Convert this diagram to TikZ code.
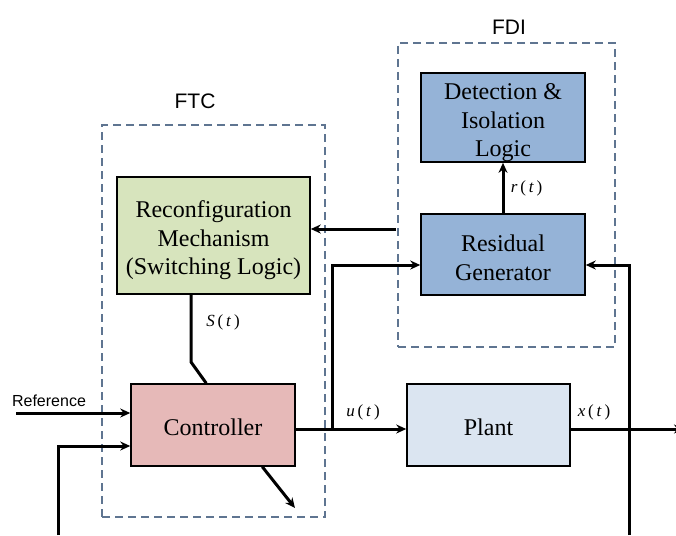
\documentclass[tikz,border=0pt]{standalone}
\usepackage{fontspec}
\setmainfont{Liberation Serif}
\newfontfamily\arialf{Liberation Sans}
\usetikzlibrary{arrows.meta,calc}
\definecolor{fdiblue}{HTML}{95B3D7}
\definecolor{recgreen}{HTML}{D7E4BD}
\definecolor{ctrlpink}{HTML}{E6B9B8}
\definecolor{plantblue}{HTML}{DBE5F1}
\definecolor{dashcol}{HTML}{5F7591}
\newcommand{\sig}[1]{\textit{#1}\,(\,\textit{t}\,)}
\newcommand{\tstrut}[1]{\rule{0pt}{#1}}
\begin{document}
\begin{tikzpicture}[x=1pt,y=-1pt,
  blk/.style={draw=black, line width=1.5pt, align=center, inner sep=0pt,
    font=\fontsize{24}{28.5}\selectfont},
  dashbox/.style={draw=dashcol, line width=2pt, dash pattern=on 8pt off 5pt, inner sep=0pt},
  grp/.style={font=\arialf\fontsize{21}{24}\selectfont},
  sglab/.style={font=\fontsize{17}{19}\selectfont},
  conn/.style={line width=3pt, draw=black},
  arr/.style={conn, -{Stealth[length=10pt,width=9pt]}},
]
\useasboundingbox (0,0) rectangle (676,535);
% group boxes
\node[dashbox, minimum width=223pt, minimum height=392pt] (ftc) at (213.5,321) {};
\node[dashbox, minimum width=217pt, minimum height=304pt] (fdi) at (506.5,195) {};
\node[grp] (ftclab) at (195,101) {FTC};
\node[grp] (fdilab) at (509,27) {FDI};
% blocks
\node[blk, fill=fdiblue, minimum width=164pt, minimum height=89pt] (det) at (503,117.5) {\tstrut{27pt}Detection \&\\Isolation\\Logic};
\node[blk, fill=fdiblue, minimum width=164pt, minimum height=81pt] (res) at (503,254.5) {\tstrut{23pt}Residual\\Generator};
\node[blk, fill=recgreen, minimum width=193pt, minimum height=117pt] (rec) at (213.5,235.5) {\tstrut{27pt}Reconfiguration\\Mechanism\\(Switching Logic)};
\node[blk, fill=ctrlpink, minimum width=164pt, minimum height=82pt] (ctrl) at (213,425) {\tstrut{21pt}Controller};
\node[blk, fill=plantblue, minimum width=163pt, minimum height=82pt] (plant) at (488.5,425) {\tstrut{21pt}Plant};
% helper coordinates
\coordinate (uj) at (332,429);
\coordinate (xj) at (629,535);
\coordinate (resin) at (332,265);
\coordinate (fdiout) at (396,229);
\coordinate (sbend) at (191,362);
\coordinate (refstart) at (16,413);
\coordinate (fbstart) at (58,535);
\coordinate (ctrlout) at (295,508);
\coordinate (outend) at (684,429);
% connectors
\draw[arr] (res.north) -- node[sglab, right=3pt] {\sig{r}} (det.south);
\draw[arr] (fdiout) -- (rec.east |- fdiout);
\draw[conn] (rec.south -| sbend) -- (sbend) -- ($(ctrl.north west)+(76,0)$);
\node[sglab] (slab) at (223,322) {\sig{S}};
\draw[arr] (refstart) -- (ctrl.west |- refstart);
\node[font=\arialf\fontsize{16}{18}\selectfont] (reflab) at (49,401) {Reference};
\draw[arr] (fbstart) |- ($(ctrl.west)+(0,21)$);
\draw[arr] ($(ctrl.south west)+(132,0)$) -- (ctrlout);
\draw[arr] (ctrl.east |- uj) -- (plant.west |- uj);
\node[sglab] (ulab) at (363,412) {\sig{u}};
\draw[arr] (uj) -- (resin) -- (res.west |- resin);
\draw[arr] (plant.east |- uj) -- (outend);
\node[sglab] (xlab) at (594,412) {\sig{x}};
\draw[arr] (xj) |- (res.east |- resin);
\end{tikzpicture}
\end{document}
